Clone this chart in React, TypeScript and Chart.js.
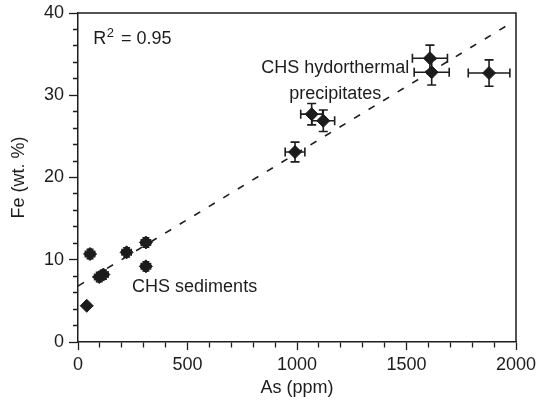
import { useEffect, useRef } from 'react';
import { Chart, registerables } from 'chart.js';

Chart.register(...registerables);

// CHS sediments
const sedAs = [40, 55, 97, 116, 222, 310, 310];
const sedFe = [4.4, 10.7, 7.9, 8.2, 10.9, 12.1, 9.2];
const sedAsErr = [0, 21, 21, 21, 21, 21, 21];
const sedFeErr = [0, 0.56, 0.56, 0.56, 0.56, 0.56, 0.56];

// CHS hydrothermal precipitates
const hydAs = [991, 1067, 1120, 1607, 1615, 1877];
const hydFe = [23.1, 27.7, 26.9, 34.5, 32.8, 32.7];
const hydAsErr = [45, 50, 52, 80, 80, 95];
const hydFeErr = [1.2, 1.3, 1.3, 1.6, 1.55, 1.6];

// regression line end points
const fitAs = [0, 1960];
const fitFe = [6.8, 38.5];

const xMajorStep = 500;
const yMajorStep = 10;

const FONT = "'Liberation Sans', Arial, Helvetica, sans-serif";
const INK = '#1c1c1c';

const errorBarPlugin = {
  id: 'errorBars',
  beforeDatasetsDraw(chart: any) {
    const { ctx, scales } = chart;
    const xs = scales.x;
    const ys = scales.y;
    const groups: [number[], number[], number[], number[], number][] = [
      [sedAs, sedFe, sedAsErr, sedFeErr, 3.5],
      [hydAs, hydFe, hydAsErr, hydFeErr, 4.5],
    ];
    ctx.save();
    ctx.strokeStyle = INK;
    ctx.lineWidth = 1.6;
    for (const [ax, fe, axe, fee, cap] of groups) {
      for (let i = 0; i < ax.length; i++) {
        const px = xs.getPixelForValue(ax[i]);
        const py = ys.getPixelForValue(fe[i]);
        if (axe[i] > 0) {
          const x1 = xs.getPixelForValue(ax[i] - axe[i]);
          const x2 = xs.getPixelForValue(ax[i] + axe[i]);
          ctx.beginPath();
          ctx.moveTo(x1, py); ctx.lineTo(x2, py);
          ctx.moveTo(x1, py - cap); ctx.lineTo(x1, py + cap);
          ctx.moveTo(x2, py - cap); ctx.lineTo(x2, py + cap);
          ctx.stroke();
        }
        if (fee[i] > 0) {
          const y1 = ys.getPixelForValue(fe[i] - fee[i]);
          const y2 = ys.getPixelForValue(fe[i] + fee[i]);
          ctx.beginPath();
          ctx.moveTo(px, y1); ctx.lineTo(px, y2);
          ctx.moveTo(px - cap, y1); ctx.lineTo(px + cap, y1);
          ctx.moveTo(px - cap, y2); ctx.lineTo(px + cap, y2);
          ctx.stroke();
        }
      }
    }
    ctx.restore();
  },
};

const framePlugin = {
  id: 'frameAndText',
  afterDraw(chart: any) {
    const { ctx, chartArea, scales } = chart;
    const xs = scales.x;
    const ys = scales.y;
    ctx.save();
    ctx.strokeStyle = INK;
    ctx.lineWidth = 1.5;
    ctx.beginPath();
    ctx.moveTo(chartArea.left, chartArea.top);
    ctx.lineTo(chartArea.right, chartArea.top);
    ctx.lineTo(chartArea.right, chartArea.bottom);
    ctx.stroke();

    ctx.fillStyle = INK;
    ctx.textBaseline = 'alphabetic';
    ctx.font = `18px ${FONT}`;
    ctx.textAlign = 'left';
    ctx.fillText('CHS sediments', xs.getPixelForValue(247), ys.getPixelForValue(6.08));
    ctx.textAlign = 'center';
    ctx.fillText('CHS hydorthermal', xs.getPixelForValue(1175), ys.getPixelForValue(32.7));
    ctx.fillText('precipitates', xs.getPixelForValue(1175), ys.getPixelForValue(29.5));

    // R^2 label
    ctx.textAlign = 'left';
    let rx = xs.getPixelForValue(70);
    const ry = ys.getPixelForValue(36.2);
    ctx.fillText('R', rx, ry);
    rx += ctx.measureText('R').width + 0.5;
    ctx.font = `13px ${FONT}`;
    ctx.fillText('2', rx, ry - 7.5);
    rx += ctx.measureText('2').width + 2;
    ctx.font = `18px ${FONT}`;
    ctx.fillText(' = 0.95', rx, ry);
    ctx.restore();
  },
};

export default function App() {
  const ref = useRef<HTMLCanvasElement | null>(null);
  useEffect(() => {
    document.body.style.margin = '0';
    const canvas = ref.current;
    if (!canvas) return;
    const chart = new Chart(canvas, {
      type: 'scatter',
      data: {
        datasets: [
          {
            type: 'line',
            label: 'fit',
            data: fitAs.map((x, i) => ({ x, y: fitFe[i] })),
            borderColor: INK,
            borderWidth: 1.6,
            borderDash: [7, 10],
            pointRadius: 0,
            fill: false,
          } as any,
          {
            label: 'CHS sediments',
            data: sedAs.map((x, i) => ({ x, y: sedFe[i] })),
            pointStyle: 'rectRot',
            pointRadius: 6.5,
            pointHoverRadius: 6.5,
            backgroundColor: INK,
            borderColor: INK,
            borderWidth: 1,
          },
          {
            label: 'CHS hydrothermal precipitates',
            data: hydAs.map((x, i) => ({ x, y: hydFe[i] })),
            pointStyle: 'rectRot',
            pointRadius: 6.5,
            pointHoverRadius: 6.5,
            backgroundColor: INK,
            borderColor: INK,
            borderWidth: 1,
          },
        ],
      },
      options: {
        responsive: false,
        animation: false,
        devicePixelRatio: 1,
        layout: { padding: { top: 13, right: 21, left: 0, bottom: 0 } },
        plugins: { legend: { display: false }, tooltip: { enabled: false } },
        scales: {
          x: {
            type: 'linear',
            min: 0,
            max: 2000,
            afterFit: (s: any) => {
              s.height = 68;
              s.paddingLeft = 0;
              s.paddingRight = 0;
            },
            border: { color: INK, width: 1.5 },
            grid: {
              drawOnChartArea: false,
              tickLength: 8,
              tickColor: INK,
              tickWidth: 1.3,
              tickBorderDash: (c: any) => (c.tick && c.tick.value % xMajorStep === 0 ? [] : [5, 20]),
            } as any,
            ticks: {
              stepSize: 100,
              autoSkip: false,
              maxRotation: 0,
              minRotation: 0,
              padding: 4,
              color: INK,
              font: { family: FONT, size: 18 },
              callback: (v: any) => (Number(v) % xMajorStep === 0 ? String(v) : ''),
            },
            title: {
              display: true,
              text: 'As (ppm)',
              color: INK,
              font: { family: FONT, size: 18 },
              padding: { top: 0, bottom: 11 },
            },
          },
          y: {
            type: 'linear',
            min: 0,
            max: 40,
            afterFit: (s: any) => {
              s.width = 78;
              s.paddingTop = 0;
              s.paddingBottom = 0;
            },
            border: { color: INK, width: 1.5 },
            grid: {
              drawOnChartArea: false,
              tickLength: 9,
              tickColor: INK,
              tickWidth: 1.3,
              tickBorderDash: (c: any) => (c.tick && c.tick.value % yMajorStep === 0 ? [] : [0, 4, 5, 10]),
            } as any,
            ticks: {
              stepSize: 2,
              autoSkip: false,
              padding: 5,
              color: INK,
              font: { family: FONT, size: 18 },
              callback: (v: any) => (Number(v) % yMajorStep === 0 ? String(v) : ''),
            },
            title: {
              display: true,
              text: 'Fe (wt. %)',
              color: INK,
              font: { family: FONT, size: 18 },
              padding: { top: 8, bottom: 0 },
            },
          },
        },
      },
      plugins: [errorBarPlugin, framePlugin],
    });
    return () => chart.destroy();
  }, []);
  return (
    <div style={{ width: 537, height: 410, background: '#fff' }}>
      <canvas ref={ref} width={537} height={410} style={{ display: 'block' }} />
    </div>
  );
}
